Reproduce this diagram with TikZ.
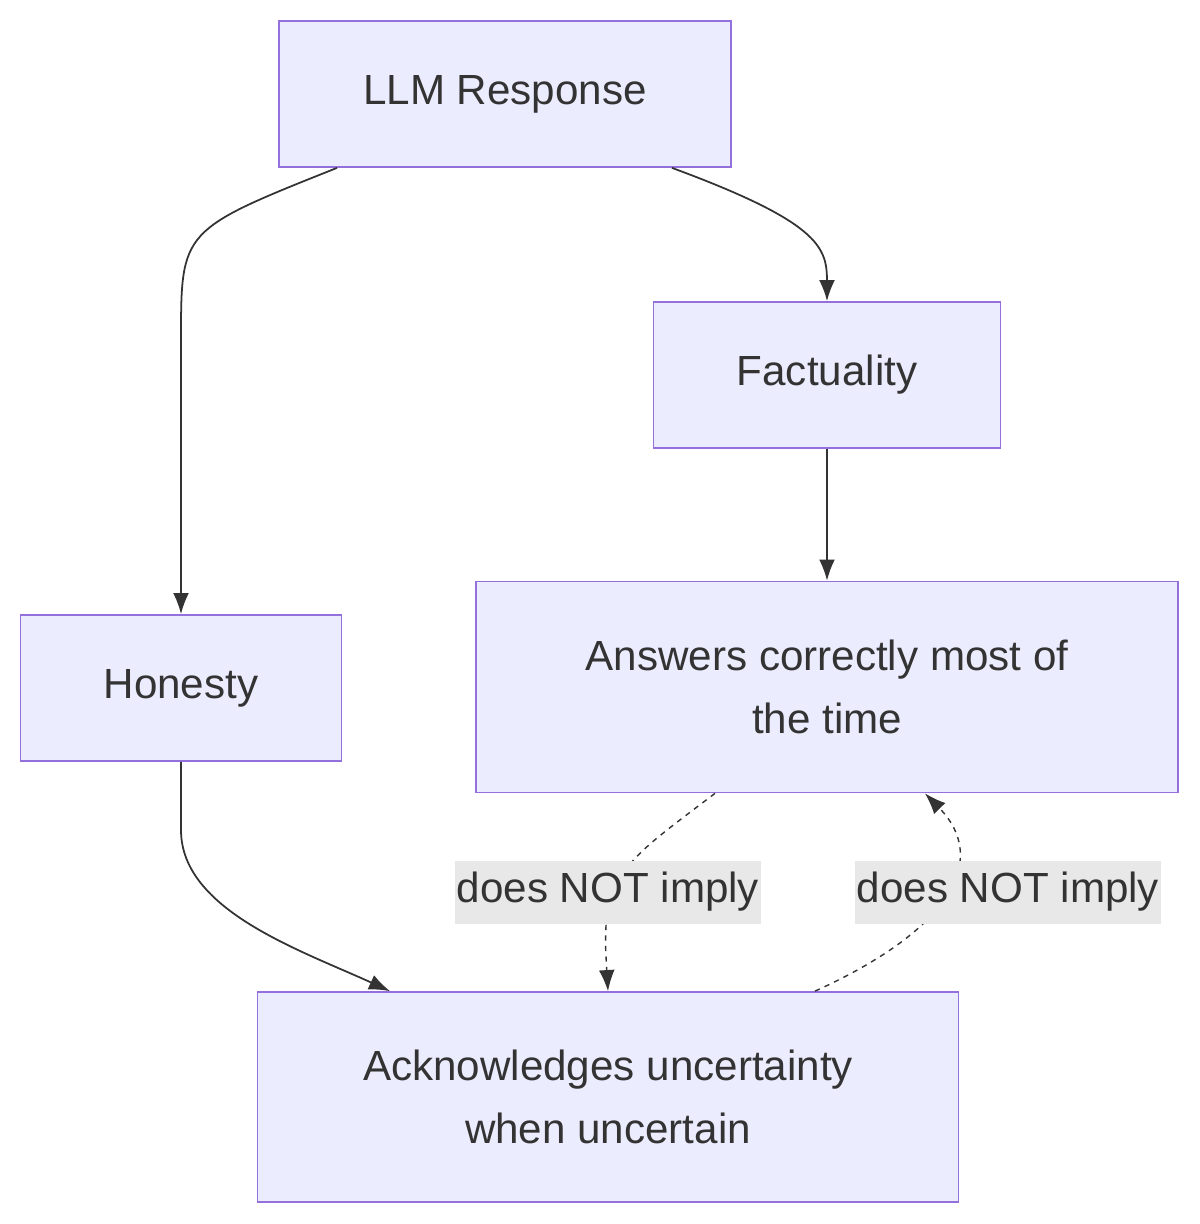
\documentclass[tikz,border=0pt]{standalone}
\usepackage{fontspec}
\setmainfont{Liberation Sans}
\usetikzlibrary{arrows.meta}
\definecolor{boxfill}{HTML}{ECECFF}
\definecolor{boxline}{HTML}{9370DB}
\definecolor{ink}{HTML}{333333}
\definecolor{lblfill}{HTML}{E8E8E8}
\tikzset{
  box/.style={draw=boxline, fill=boxfill, line width=1pt, text=ink, align=center,
    font=\fontsize{24}{36}\selectfont},
  link/.style={draw=ink, line width=1pt, -{Latex[length=12pt,width=9pt]}},
  nolink/.style={draw=ink, line width=0.8pt, dash pattern=on 3pt off 3pt, -{Latex[length=12pt,width=9pt]}},
  lbl/.style={fill=lblfill, text=ink, inner sep=0pt, minimum width=6.14cm, minimum height=1.26cm,
    font=\fontsize{24}{36}\selectfont}
}
\begin{document}
\begin{tikzpicture}[x=0.02cm, y=-0.02cm]
    \useasboundingbox (0,0) rectangle (1200,1224);

    % Define the positions of the nodes
    \node[box, minimum width=9.04cm, minimum height=2.92cm] (llm) at (505,94) {LLM Response};
    \node[box, minimum width=6.94cm, minimum height=2.92cm] (fact) at (827,375) {Factuality};
    \node[box, minimum width=6.42cm, minimum height=2.92cm] (hon) at (181,688) {Honesty};
    \node[box, minimum width=14.04cm, minimum height=4.22cm] (ans) at (827,687) {Answers correctly most of\\the time};
    \node[box, minimum width=14.02cm, minimum height=4.2cm] (ack) at (608,1097) {Acknowledges uncertainty\\when uncertain};

    % Draw the edges
    \draw[link] ([xshift=-3.36cm]llm.south) .. controls (181,230) .. (181,340) -- (hon.north);
    \draw[link] ([xshift=3.34cm]llm.south) .. controls (827,225) and (827,250) .. (827,285) -- (fact.north);
    \draw[link] (fact.south) -- (ans.north);
    \draw[link] (hon.south) -- (181,830) .. controls (181,910) and (300,950) .. ([xshift=-4.36cm]ack.north);

    \draw[nolink] ([xshift=-2.24cm]ans.south) .. controls (640,850) .. (608,892)
        node[lbl] (imp1) {does NOT imply} .. controls (605,940) .. (ack.north);
    \draw[nolink] ([xshift=4.14cm]ack.north) .. controls (950,930) and (990,860) .. ([xshift=1.96cm]ans.south);
    \node[lbl] (imp2) at (1008,892) {does NOT imply};
\end{tikzpicture}
\end{document}
